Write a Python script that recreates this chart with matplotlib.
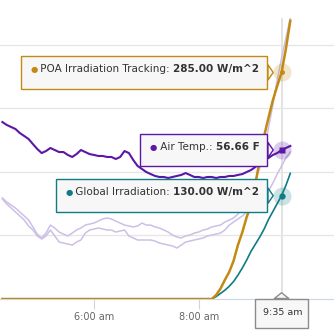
import numpy as np
import matplotlib
matplotlib.use("Agg")
import matplotlib.pyplot as plt
import matplotlib.transforms as mtransforms
from matplotlib.offsetbox import TextArea, HPacker, DrawingArea, AnnotationBbox
from matplotlib.ticker import FixedLocator, FuncFormatter

# one reading every 5 minutes, 4:15 am .. 9:45 am (hours of the day)
times = 4.25 + np.arange(67) * 5 / 60.0

air_temp = [58.87, 58.64, 58.48, 58.32, 58.00, 57.77, 57.53, 57.13, 56.74, 56.42,
            56.58, 56.82, 56.66, 56.50, 56.50, 56.27, 56.11, 56.34, 56.66, 56.50,
            56.34, 56.27, 56.19, 56.19, 56.11, 56.11, 55.95, 56.11, 56.58, 56.42,
            55.87, 55.40, 55.16, 54.92, 54.76, 54.61, 54.53, 54.53, 54.45, 54.53,
            54.61, 54.69, 54.84, 54.69, 54.53, 54.53, 54.45, 54.53, 54.53, 54.45,
            54.53, 54.53, 54.61, 54.61, 54.69, 54.76, 54.92, 55.08, 55.32, 55.63,
            55.87, 56.03, 56.27, 56.42, 56.66, 56.82, 56.98]

# two faded (inactive) temperature series
temp_a = [52.87, 52.55, 52.31, 52.08, 51.76, 51.45, 51.13, 50.58, 50.02, 49.71,
          50.10, 50.73, 50.50, 50.18, 50.02, 49.87, 50.10, 50.34, 50.50, 50.73,
          50.81, 50.89, 51.05, 51.21, 51.29, 51.21, 51.05, 50.89, 50.73, 50.66,
          50.58, 50.66, 50.89, 50.73, 50.73, 50.58, 50.50, 50.34, 50.18, 49.94,
          49.79, 49.71, 49.87, 49.94, 50.10, 50.18, 50.34, 50.42, 50.58, 50.66,
          50.73, 50.97, 51.13, 51.29, 51.60, 52.08, 52.71, 53.50, 54.29, 55.24,
          56.66, 58.40, 60.21, 62.19, 63.93, 65.51, 67.09]
temp_b = [52.79, 52.39, 52.08, 51.76, 51.45, 51.13, 50.66, 50.34, 49.87, 49.63,
          49.87, 50.34, 49.87, 49.39, 49.31, 49.23, 49.15, 49.39, 49.55, 50.10,
          50.34, 50.42, 50.50, 50.42, 50.34, 50.34, 50.18, 50.26, 50.34, 49.87,
          49.71, 49.55, 49.55, 49.55, 49.55, 49.47, 49.31, 49.23, 49.15, 49.08,
          48.92, 49.15, 49.39, 49.47, 49.55, 49.63, 49.71, 49.87, 49.94, 50.02,
          50.10, 50.34, 50.73, 50.97, 51.21, 51.45, 51.76, 52.08, 52.39, 52.79,
          53.03, 53.42, 54.05, 54.76, 55.40, 56.03, 56.50]

poa = [0] * 49 + [5, 13, 24, 34, 48, 68, 84, 103, 118, 145, 175, 205, 228, 250,
                  268, 285, 315, 350]
ghi = [0] * 49 + [3, 7, 11, 16, 22, 30, 39, 49, 60, 69, 78, 88, 100, 110, 120,
                  130, 143, 158]

hover = 64  # 9:35 am
xticks = [6, 8]

gold = "#c28a12"
purple = "#5b17a6"
teal = "#0f7b85"
faded = "#cdbfe6"
tip_bg = "#f7f7f7"

fig = plt.figure(figsize=(3.34, 3.33), dpi=100)
ax = fig.add_axes([0, 34 / 333, 1, 281 / 333])
ax2 = ax.twinx()

ax.set_xlim(4.2044, 10.585)
ax.set_ylim(0, 353.5)
ax2.set_ylim(44.89, 67.09)

ax.yaxis.set_major_locator(FixedLocator([80, 160, 240, 320]))
ax.grid(axis="y", color="#e6e6e6", lw=1)
ax.tick_params(axis="y", left=False, labelleft=False)
ax2.tick_params(axis="y", right=False, labelright=False)
for a in (ax, ax2):
    for s in ("left", "right", "top"):
        a.spines[s].set_visible(False)
ax.spines["bottom"].set_color("#ccd6eb")
ax2.spines["bottom"].set_visible(False)

ax.xaxis.set_major_locator(FixedLocator(xticks))
ax.xaxis.set_major_formatter(FuncFormatter(lambda h, p: "%d:%02d am" % (int(h), round((h % 1) * 60))))
ax.tick_params(axis="x", length=7, color="#ccd6eb", labelcolor="#666666", labelsize=7, pad=2)

# crosshair
ax.axvline(times[hover], color="#dedede", lw=1.2, zorder=0)

# temperature series
ax2.plot(times, temp_b, color=faded, lw=1.1)
ax2.plot(times, temp_a, color=faded, lw=1.1)
ax2.plot(times, air_temp, color=purple, lw=1.5)

# irradiance series, drawn on top with the irradiance scale
ax2.plot(times, ghi, color=teal, lw=1.2, transform=ax.transData)
ax2.plot(times, poa, color=gold, lw=1.8, transform=ax.transData)

# hovered points
th = times[hover]
ax2.plot([th], [poa[hover]], "o", ms=13, color=gold, alpha=0.22, mec="none", transform=ax.transData)
ax2.plot([th], [poa[hover]], "o", ms=3.5, color=gold, mec="none", transform=ax.transData)
ax2.plot([th], [air_temp[hover]], "o", ms=13, color=purple, alpha=0.22, mec="none")
ax2.plot([th], [air_temp[hover]], "s", ms=5, color=purple, mec="none")
ax2.plot([th], [ghi[hover]], "o", ms=13, color=teal, alpha=0.22, mec="none", transform=ax.transData)
ax2.plot([th], [ghi[hover]], "o", ms=4.5, color=teal, mec="none", transform=ax.transData)


def tooltip(xy, coords, color, label, value):
    dot = TextArea("\u25cf", textprops=dict(color=color, fontsize=6))
    t1 = TextArea(" " + label + ": ", textprops=dict(color="#333333", fontsize=7.5))
    t2 = TextArea(value, textprops=dict(color="#333333", fontsize=7.5, fontweight="bold"))
    spacer = DrawingArea(1, 10.7, 0, 6.2)
    box = HPacker(children=[spacer, dot, t1, t2], align="baseline", pad=0, sep=0)
    ab = AnnotationBbox(box, xy, xycoords=coords, xybox=(-16, 0), boxcoords="offset points",
                        box_alignment=(1, 0.5), pad=0.58,
                        bboxprops=dict(fc=tip_bg, ec=color, lw=1),
                        arrowprops=dict(arrowstyle="wedge,tail_width=0.8,shrink_factor=0.5",
                                        fc=tip_bg, ec=color, lw=1, shrinkA=0, shrinkB=6))
    ax2.add_artist(ab)


tooltip((th, poa[hover]), ax.transData, gold, "POA Irradiation Tracking", "%.2f W/m^2" % poa[hover])
tooltip((th, air_temp[hover]), ax2.transData, purple, "Air Temp.", "%.2f F" % air_temp[hover])
tooltip((th, ghi[hover]), ax.transData, teal, "Global Irradiation", "%.2f W/m^2" % ghi[hover])

# time label under the axis
tlab = TextArea("9:35 am", textprops=dict(color="#333333", fontsize=6.8))
tspacer = DrawingArea(1, 11.6, 0, 4.9)
tbox = HPacker(children=[tspacer, tlab], align="baseline", pad=0, sep=0)
anchor = mtransforms.offset_copy(ax.get_xaxis_transform(), fig=fig, x=0, y=4.5, units="points")
ab = AnnotationBbox(tbox, (th, 0), xycoords=anchor, xybox=(0, -9.0), boxcoords="offset points",
                    box_alignment=(0.5, 1), pad=0.45,
                    bboxprops=dict(fc=tip_bg, ec="#8c8c8c", lw=1),
                    arrowprops=dict(arrowstyle="wedge,tail_width=0.75,shrink_factor=0.5",
                                    fc=tip_bg, ec="#8c8c8c", lw=1, shrinkA=0, shrinkB=0))
ab.set_clip_on(False)
ax2.add_artist(ab)

fig.savefig("out.png", dpi=100)
